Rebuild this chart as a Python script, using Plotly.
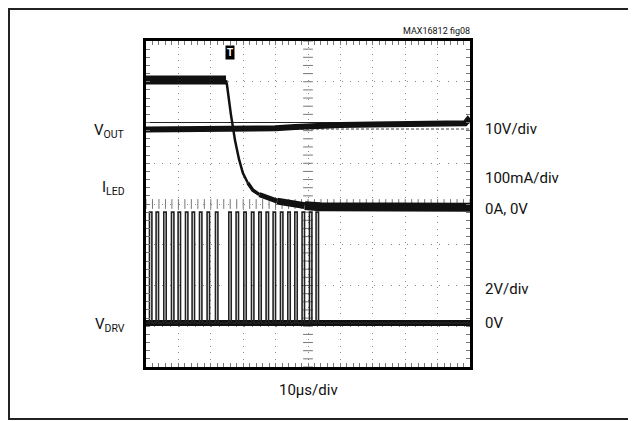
import numpy as np
import plotly.graph_objects as go

# ---- data (screen divisions: x 0..10 at 10us/div, y 0..8) ----
iled_t = [0.0, 2.47, 2.50, 2.62, 2.75, 2.87, 2.99, 3.14, 3.30, 3.50, 3.73, 4.05, 4.44, 4.90, 5.37, 10.0]
iled_v = [7.04, 7.04, 6.92, 6.20, 5.55, 5.10, 4.76, 4.52, 4.34, 4.23, 4.15, 4.07, 4.02, 3.96, 3.93, 3.92]

vout_t = [0.0, 1.0, 2.0, 3.0, 4.0, 4.6, 5.0, 5.5, 6.0, 7.0, 8.0, 9.0, 9.85, 9.93, 10.0]
vout_v = [5.83, 5.83, 5.83, 5.84, 5.86, 5.89, 5.91, 5.93, 5.94, 5.95, 5.96, 5.97, 5.98, 6.06, 5.99]

ref_solid = 6.00
ref_dash = 5.84

vdrv_low = 1.08
vdrv_high = 3.80
pulse_centers = [0.145, 0.349, 0.586, 0.824, 1.028, 1.256, 1.460, 1.688, 1.923, 2.182,
                 2.593, 2.818, 3.056, 3.293, 3.519, 3.744, 3.960, 4.188, 4.414, 4.630,
                 4.855, 5.083, 5.287]
pulse_width = 0.075

left_labels = ["V<sub>OUT</sub>", "I<sub>LED</sub>", "V<sub>DRV</sub>"]
left_y = [5.80, 4.40, 1.03]
right_labels = ["10V/div", "100mA/div", "0A, 0V", "2V/div", "0V"]
right_y = [5.85, 4.63, 3.88, 1.91, 1.07]

FONT = "Liberation Sans Narrow, Arial Narrow, Roboto, sans-serif"
INK = "#111"

# build VDRV step waveform from the pulse list
vd_x, vd_y = [0.0], [vdrv_low]
for c in pulse_centers:
    a, b = c - pulse_width / 2, c + pulse_width / 2
    vd_x += [a, a, b, b]
    vd_y += [vdrv_low, vdrv_high, vdrv_high, vdrv_low]
vd_x.append(10.0)
vd_y.append(vdrv_low)

fig = go.Figure()

def line(x, y, width, color=INK, dash=None):
    fig.add_trace(go.Scatter(x=x, y=y, mode="lines",
                             line=dict(color=color, width=width, dash=dash),
                             hoverinfo="skip", showlegend=False))

# graticule centre-cross ticks
gx = np.round(np.arange(0, 10.001, 0.2), 3)
fig.add_trace(go.Scatter(x=gx, y=[4] * len(gx), mode="markers",
                         marker=dict(symbol="line-ns", size=7, line=dict(width=1, color="#777")),
                         hoverinfo="skip", showlegend=False))
gy = np.round(np.arange(0, 8.001, 0.2), 3)
fig.add_trace(go.Scatter(x=[5] * len(gy), y=gy, mode="markers",
                         marker=dict(symbol="line-ew", size=7, line=dict(width=1, color="#777")),
                         hoverinfo="skip", showlegend=False))

# reference lines
line([0, 10], [ref_solid, ref_solid], 1, "#222")
line([0, 10], [ref_dash, ref_dash], 1, "#444", "3px,2px")

# VOUT (noisy band drawn as a thick trace)
line(vout_t, vout_v, 6)

# VDRV baseline band + pulses
line([0, 10], [vdrv_low, vdrv_low], 6)
line(vd_x, vd_y, 1.6, "#222")

# ILED: flat band, fast fall, thickening tail, flat band
line(iled_t[:2], iled_v[:2], 9)
line(iled_t[1:8], iled_v[1:8], 2.5)
line(iled_t[7:10], iled_v[7:10], 3.5)
line(iled_t[9:12], iled_v[9:12], 5)
line(iled_t[11:14], iled_v[11:14], 7)
line(iled_t[13:], iled_v[13:], 9)

axis_common = dict(showline=True, linewidth=3, linecolor="black", mirror="ticks",
                   ticks="inside", ticklen=4, tickcolor="#777", tickwidth=1,
                   showticklabels=False, zeroline=False, showgrid=True, gridcolor="#888",
                   gridwidth=1, fixedrange=True)

fig.update_xaxes(range=[0, 10], dtick=1, griddash="1px,5.48px",
                 minor=dict(dtick=0.2, ticks="inside", ticklen=4, tickcolor="#777", showgrid=False),
                 **axis_common)
fig.update_yaxes(range=[0, 8], dtick=1, griddash="1px,7.15px",
                 minor=dict(dtick=0.2, ticks="inside", ticklen=4, tickcolor="#777", showgrid=False),
                 **axis_common)

anns = []
for t, y in zip(left_labels, left_y):
    anns.append(dict(x=-0.0586, y=y, xref="paper", yref="y", text=t, showarrow=False,
                     xanchor="right", yanchor="middle", font=dict(family=FONT, size=15, color=INK)))
for t, y in zip(right_labels, right_y):
    anns.append(dict(x=1.04, y=y, xref="paper", yref="y", text=t, showarrow=False,
                     xanchor="left", yanchor="middle", font=dict(family=FONT, size=15, color=INK)))
anns.append(dict(x=0.5, y=-0.0706, xref="paper", yref="paper", text="10µs/div", showarrow=False,
                 xanchor="center", yanchor="middle", font=dict(family=FONT, size=15, color=INK)))
anns.append(dict(x=1.006, y=1.031, xref="paper", yref="paper", text="MAX16812 fig08", showarrow=False,
                 xanchor="right", yanchor="middle", font=dict(family=FONT, size=9, color=INK)))
# trigger marker
anns.append(dict(x=2.59, y=7.73, xref="x", yref="y", text="<b>T</b>", showarrow=False,
                 xanchor="center", yanchor="middle", bgcolor="black", borderpad=1,
                 font=dict(family="Arial", size=10, color="white")))

shapes = [
    dict(type="rect", xref="paper", yref="paper", x0=-0.4228, x1=1.512, y0=-0.1595, y1=1.0982,
         line=dict(color="#222", width=2), layer="below"),
]

# page body has an 8px margin: figure is 8px smaller and offset accordingly
fig.update_layout(width=628, height=413, margin=dict(l=138, r=166, t=33, b=54),
                  paper_bgcolor="white", plot_bgcolor="white",
                  annotations=anns, shapes=shapes, showlegend=False)

fig.write_html("out.html")
